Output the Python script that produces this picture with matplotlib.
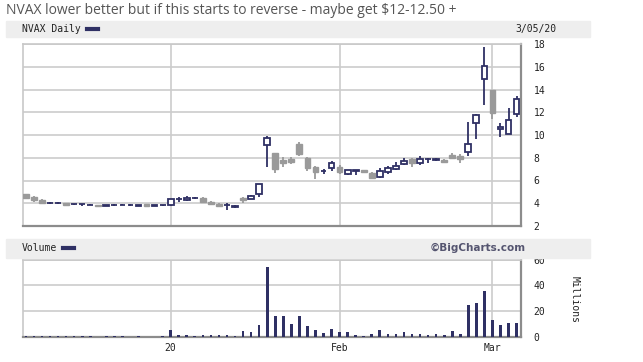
import matplotlib
matplotlib.use('Agg')
import matplotlib.pyplot as plt
from matplotlib.patches import Rectangle
from matplotlib.lines import Line2D
import numpy as np

# daily OHLC for NVAX, 5 Dec 2019 .. 5 Mar 2020 (trading days)
opens = [4.80, 4.55, 4.30, 4.00, 4.00, 4.00, 3.92, 3.90, 3.86, 3.85,
         3.80, 3.86, 3.88, 3.86, 3.78, 3.90, 3.80, 3.85, 3.85, 4.33,
         4.25, 4.42, 4.50, 4.15, 3.95, 3.84, 3.70, 4.42, 4.37, 4.80,
         9.10, 8.40, 7.80, 7.89, 9.20, 7.95, 7.17, 6.84, 7.07, 7.20,
         6.60, 6.86, 6.88, 6.70, 6.28, 6.78, 7.01, 7.45, 7.89, 7.57,
         7.85, 7.76, 7.80, 8.24, 8.15, 8.50, 11.03, 14.90, 13.96, 10.50,
         10.07, 11.82]
highs = [4.85, 4.60, 4.40, 4.08, 4.15, 4.02, 3.97, 3.95, 3.90, 3.88,
         3.88, 3.92, 3.97, 3.90, 3.88, 3.92, 3.88, 3.88, 4.40, 4.58,
         4.68, 4.55, 4.52, 4.18, 3.98, 3.98, 3.82, 4.55, 4.75, 5.70,
         9.90, 8.45, 8.09, 8.10, 9.38, 8.10, 7.30, 7.01, 7.75, 7.40,
         6.95, 6.92, 6.95, 6.75, 7.10, 7.27, 7.60, 7.95, 8.00, 8.15,
         8.00, 8.00, 7.85, 8.40, 8.30, 11.17, 11.85, 17.76, 14.00, 11.05,
         12.34, 13.43]
lows = [4.40, 4.15, 3.95, 3.95, 3.95, 3.85, 3.88, 3.78, 3.82, 3.70,
        3.75, 3.80, 3.84, 3.80, 3.72, 3.72, 3.78, 3.80, 3.78, 4.15,
        4.22, 4.40, 4.05, 3.88, 3.70, 3.42, 3.62, 4.00, 4.35, 4.58,
        7.20, 6.69, 7.17, 7.42, 8.15, 6.85, 6.10, 6.57, 6.85, 6.60,
        6.45, 6.50, 6.70, 6.10, 6.25, 6.60, 6.90, 7.40, 7.20, 7.40,
        7.50, 7.70, 7.50, 8.00, 7.57, 8.15, 9.67, 12.64, 11.40, 9.85,
        10.05, 11.60]
closes = [4.45, 4.25, 4.00, 4.02, 4.02, 3.88, 3.93, 3.90, 3.87, 3.74,
          3.85, 3.87, 3.89, 3.87, 3.84, 3.74, 3.86, 3.86, 4.37, 4.36,
          4.50, 4.43, 4.15, 3.90, 3.80, 3.86, 3.80, 4.25, 4.63, 5.69,
          9.70, 7.00, 7.57, 7.65, 8.30, 7.07, 6.73, 6.85, 7.50, 6.75,
          6.90, 6.90, 6.75, 6.20, 6.85, 7.07, 7.27, 7.68, 7.57, 7.86,
          7.86, 7.86, 7.60, 8.00, 7.86, 9.20, 11.73, 16.07, 11.96, 10.68,
          11.32, 13.14]
# volume, millions
volume = [0.8, 0.8, 0.8, 0.8, 0.8, 0.8, 0.8, 0.8, 0.8, 0.3,
          0.8, 0.8, 0.8, 0.3, 0.8, 0.3, 0.3, 0.8, 5.2, 1.8,
          1.8, 1.0, 1.8, 1.8, 1.8, 1.5, 1.0, 4.4, 3.6, 9.0,
          54.3, 16.2, 16.2, 9.8, 16.2, 8.3, 5.2, 3.1, 6.0, 3.9,
          3.9, 1.5, 1.0, 2.3, 5.2, 2.3, 2.3, 3.6, 2.3, 2.3,
          1.6, 2.3, 1.6, 4.6, 2.3, 24.6, 26.6, 35.4, 13.5, 9.1,
          10.9, 10.9]
# x ticks: index of first trading day of Jan 2020, Feb, Mar
tick_idx = [18, 39, 58]
tick_labels = ['20', 'Feb', 'Mar']
price_ticks = [2, 4, 6, 8, 10, 12, 14, 16, 18]
vol_ticks = [0, 20, 40, 60]

NAVY = '#2f3064'
GRAY = '#9a9a9a'
GRID = '#cccccc'
W, H = 643, 362

fig = plt.figure(figsize=(W / 100, H / 100), dpi=100)


def fx(px):
    return px / W


def fy(py):
    return 1 - py / H


def box(l, t, r, b):
    return [fx(l), fy(b), fx(r) - fx(l), fy(t) - fy(b)]


mono = 'DejaVu Sans Mono'

# title
fig.text(fx(6), fy(11), 'NVAX lower better but if this starts to reverse - maybe get $12-12.50 +',
         fontsize=10, family='Open Sans', color='#555555', va='center', ha='left', parse_math=False)

# header bands
for top, bot in [(21, 37), (239, 258)]:
    fig.patches.append(Rectangle((fx(6), fy(bot)), fx(590) - fx(6), fy(top) - fy(bot),
                                 transform=fig.transFigure, color='#eeeeee', zorder=0))
fig.text(fx(22), fy(29), 'NVAX Daily', fontsize=7, family=mono, color='#222222', va='center')
fig.add_artist(Line2D([fx(87), fx(98)], [fy(29), fy(29)], color=NAVY, lw=3, transform=fig.transFigure))
fig.text(fx(556), fy(29), '3/05/20', fontsize=7, family=mono, color='#222222', va='center', ha='right')
fig.text(fx(22), fy(248), 'Volume', fontsize=7, family=mono, color='#222222', va='center')
fig.add_artist(Line2D([fx(63), fx(74)], [fy(248), fy(248)], color=NAVY, lw=3, transform=fig.transFigure))
fig.text(fx(526), fy(248), '\u00a9BigCharts.com', fontsize=7.5, fontweight='bold',
         color='#555570', va='center', ha='right')

x = np.arange(len(opens))
xlim = (-0.42, 61.55)

# price panel
ax = fig.add_axes(box(22.5, 44, 521, 226))
o = np.array(opens)
c = np.array(closes)
up = c >= o
cols = np.where(up, NAVY, GRAY)
ax.vlines(x, lows, highs, colors=cols, lw=1.3, zorder=2)
ax.bar(x[up], (c - o)[up], bottom=o[up], width=0.72, facecolor='white', edgecolor=NAVY, lw=1.3, zorder=3)
ax.bar(x[~up], (c - o)[~up], bottom=o[~up], width=0.72, facecolor=GRAY, edgecolor=GRAY, lw=1.0, zorder=3)
ax.set_xlim(*xlim)
ax.set_ylim(2, 18)
ax.set_yticks(price_ticks)
ax.set_xticks(tick_idx)
ax.set_xticklabels([])
ax.grid(True, color=GRID, lw=1.2, zorder=0)
ax.set_axisbelow(True)

# volume panel
av = fig.add_axes(box(22.5, 259.5, 521, 337))
av.bar(x, volume, width=0.33, color=NAVY, zorder=3)
av.set_xlim(*xlim)
av.set_ylim(0, 60)
av.set_yticks(vol_ticks)
av.set_xticks(tick_idx)
av.set_xticklabels(tick_labels)
av.grid(True, color=GRID, lw=1.2, zorder=0)
av.set_axisbelow(True)
fig.text(fx(575), fy(300), 'Millions', rotation=-90, fontsize=7, family=mono,
         color='#222222', va='center', ha='center')

for a in (ax, av):
    a.yaxis.tick_right()
    a.tick_params(axis='both', length=0, labelsize=7, labelcolor='#222222')
    a.tick_params(axis='y', pad=9)
    a.tick_params(axis='x', pad=4)
    for lab in a.get_yticklabels() + a.get_xticklabels():
        lab.set_family(mono)
    for s in ('left', 'top'):
        a.spines[s].set_color('#c8c8c8')
        a.spines[s].set_linewidth(1.2)
    for s in ('right', 'bottom'):
        a.spines[s].set_color('#8c8c8c')
        a.spines[s].set_linewidth(1.6)

fig.savefig('out.png', dpi=100)
